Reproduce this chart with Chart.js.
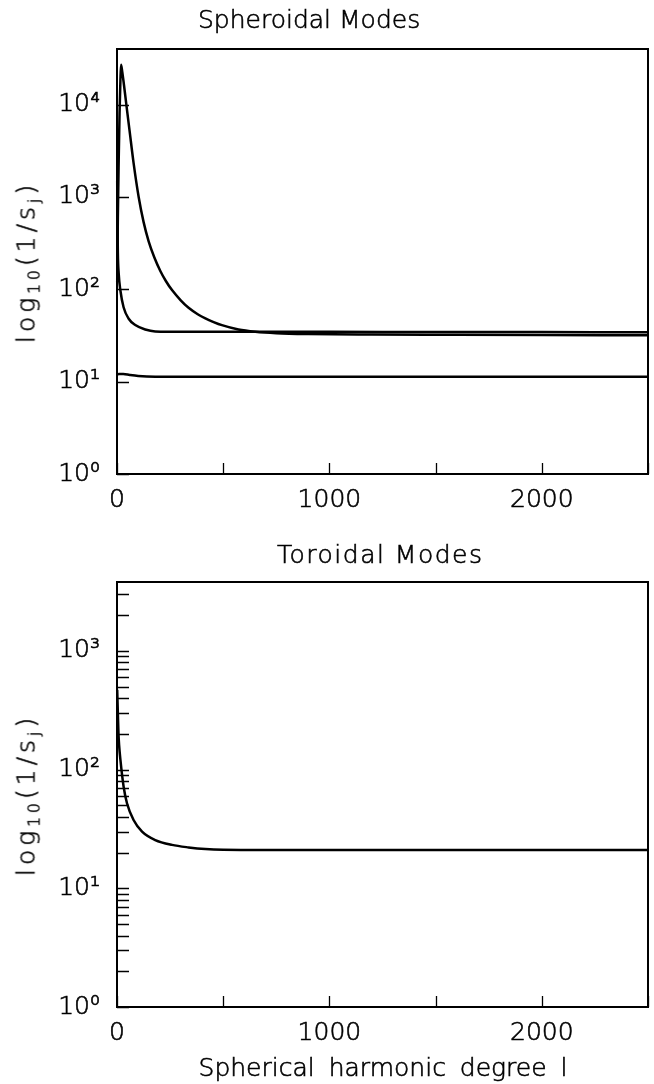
<!DOCTYPE html>
<html><head><meta charset="utf-8">
<script src="https://cdn.jsdelivr.net/npm/chart.js@4.4.1/dist/chart.umd.min.js"></script>
<style>
html,body{margin:0;padding:0;background:#fff;}
#wrap{position:relative;width:654px;height:1084px;overflow:hidden;font-family:"DejaVu Sans",sans-serif;font-weight:200;color:#000;}
.c{position:absolute;left:0;}
.t{position:absolute;white-space:nowrap;font-size:25px;line-height:1;-webkit-text-stroke:0.6px #000;}
.yl{transform:translate(-50%,-50%) rotate(-90deg);letter-spacing:4px;}
.xc{transform:translateX(-50%);word-spacing:6px;}
sub{font-size:0.62em;vertical-align:-0.32em;line-height:0;}
</style></head>
<body><div id="wrap">
<canvas id="c1" class="c" style="top:0" width="654" height="540"></canvas>
<canvas id="c2" class="c" style="top:540px" width="654" height="544"></canvas>
<div class="t" style="left:198px;top:7px">Spheroidal Modes</div>
<div class="t" style="left:277px;top:542px;letter-spacing:1.5px">Toroidal Modes</div>
<div class="t xc" style="left:383px;top:1055px">Spherical harmonic degree l</div>
<div class="t yl" style="left:26px;top:262px">log<sub>10</sub>(1/s<sub>j</sub>)</div>
<div class="t yl" style="left:26px;top:795px">log<sub>10</sub>(1/s<sub>j</sub>)</div>
</div>
<script>
// ---- Data ----
// Spheroidal modes, curve A (large hump)
const sphA_l = [1,4,8,12,16,19,25,33,44,59,78,102,125,149,175,204,230,259,300,337,380,416,455,494,572,651,750,900,1200,1600,2000,2500];
const sphA_v = [120,600,2500,8000,18000,27000,22400,16200,10000,5250,2340,1000,537,331,224,158,123,98,76,63,53.7,48.4,44.2,40.9,36.7,34.7,33.5,32.8,32.4,32.2,32.0,31.8];
// Spheroidal modes, curve B (fast drop)
const sphB_l = [1,2,4,8,16,31,55,86,133,180,250,500,1000,1500,2000,2500];
const sphB_v = [1500,600,250,148,97,64,48,41,36.7,35,34.8,34.7,34.6,34.5,34.4,34.3];
// Spheroidal modes, curve C (flat ~11)
const sphC_l = [1,10,30,60,100,180,500,1000,1500,2000,2500];
const sphC_v = [12.0,12.1,12.1,11.8,11.5,11.3,11.3,11.3,11.3,11.3,11.3];
// Toroidal modes
const tor_l = [1,2,4,7,10,16,31,47,78,118,180,259,337,416,500,700,1000,1500,2000,2500];
const tor_v = [470,400,300,200,160,121,72,52,37.6,30,25.5,23.2,22.1,21.4,21.1,21.0,21.0,21.0,21.0,21.0];
// Axis settings
const xMax = 2500;
const xTickStep = 500;
const xLabelled = [0,1000,2000];
const topYMax = 40000;
const botYMax = 3800;
const supDigits = ['\u2070','\u00b9','\u00b2','\u00b3','\u2074','\u2075'];

const toPts = (ls, vs) => ls.map((l,i)=>({x:l, y:vs[i]}));

const FONT = {family:'"DejaVu Sans", sans-serif', size:25, weight:200};

const frameTicks = {
  id:'frameTicks',
  afterDatasetsDraw(chart){
    const {ctx, chartArea:{left,right,top,bottom}, scales:{x,y}} = chart;
    ctx.save();
    ctx.strokeStyle='#000'; ctx.lineWidth=1.3;
    ctx.beginPath();
    y.ticks.forEach(t=>{const py=Math.round(y.getPixelForValue(t.value))+0.5; ctx.moveTo(left,py); ctx.lineTo(left+12,py);});
    x.ticks.forEach(t=>{const px=Math.round(x.getPixelForValue(t.value))+0.5; ctx.moveTo(px,bottom); ctx.lineTo(px,bottom-11);});
    ctx.stroke();
    ctx.lineWidth=2; ctx.strokeRect(left,top,right-left,bottom-top);
    ctx.restore();
  }
};

function ds(pts, w){
  return {data:pts, borderColor:'#000', borderWidth:w, pointRadius:0, fill:false,
          cubicInterpolationMode:'monotone', clip:false};
}

function makeChart(id, datasets, yMax, minor, pad, xH){
  return new Chart(document.getElementById(id), {
    type:'line',
    data:{datasets},
    options:{
      responsive:false, animation:false, devicePixelRatio:1,
      layout:{padding:pad},
      plugins:{legend:{display:false}, tooltip:{enabled:false}, title:{display:false}},
      scales:{
        x:{type:'linear', min:0, max:xMax,
           grid:{display:false, drawTicks:false}, border:{display:false},
           afterBuildTicks(s){ const t=[]; for(let v=0; v<=xMax; v+=xTickStep) t.push({value:v}); s.ticks=t; },
           afterFit(s){ s.height = xH; s.paddingRight = 0; s.paddingLeft = 0; },
           ticks:{autoSkip:false, maxRotation:0, padding:11, color:'#000', font:FONT,
                  textStrokeColor:'#000', textStrokeWidth:0.6,
                  callback:(v)=> xLabelled.includes(v) ? String(v) : ''}},
        y:{type:'logarithmic', min:1, max:yMax,
           grid:{display:false, drawTicks:false}, border:{display:false},
           afterBuildTicks(s){
             const t=[];
             for(let e=0; Math.pow(10,e)<=yMax; e++){
               const base=Math.pow(10,e);
               const ms = minor ? [1,2,3,4,5,6,7,8,9] : [1];
               ms.forEach(m=>{ if(m*base<=yMax) t.push({value:m*base}); });
             }
             s.ticks=t;
           },
           afterFit(s){ s.width = 117; s.paddingTop = 0; s.paddingBottom = 0; },
           ticks:{autoSkip:false, padding:17, color:'#000', font:FONT,
                  textStrokeColor:'#000', textStrokeWidth:0.6,
                  callback:(v)=>{ const e=Math.log10(v); return Math.abs(e-Math.round(e))<1e-9 ? '10'+supDigits[Math.round(e)] : ''; }}}
      }
    },
    plugins:[frameTicks]
  });
}

makeChart('c1', [
  ds(toPts(sphA_l, sphA_v), 2.5),
  ds(toPts(sphB_l, sphB_v), 2.5),
  ds(toPts(sphC_l, sphC_v), 2.5)
], topYMax, false, {left:0,right:6,top:49,bottom:0}, 66);

makeChart('c2', [
  ds(toPts(tor_l, tor_v), 2.5)
], botYMax, true, {left:0,right:6,top:42,bottom:0}, 77);
</script>
</body></html>
